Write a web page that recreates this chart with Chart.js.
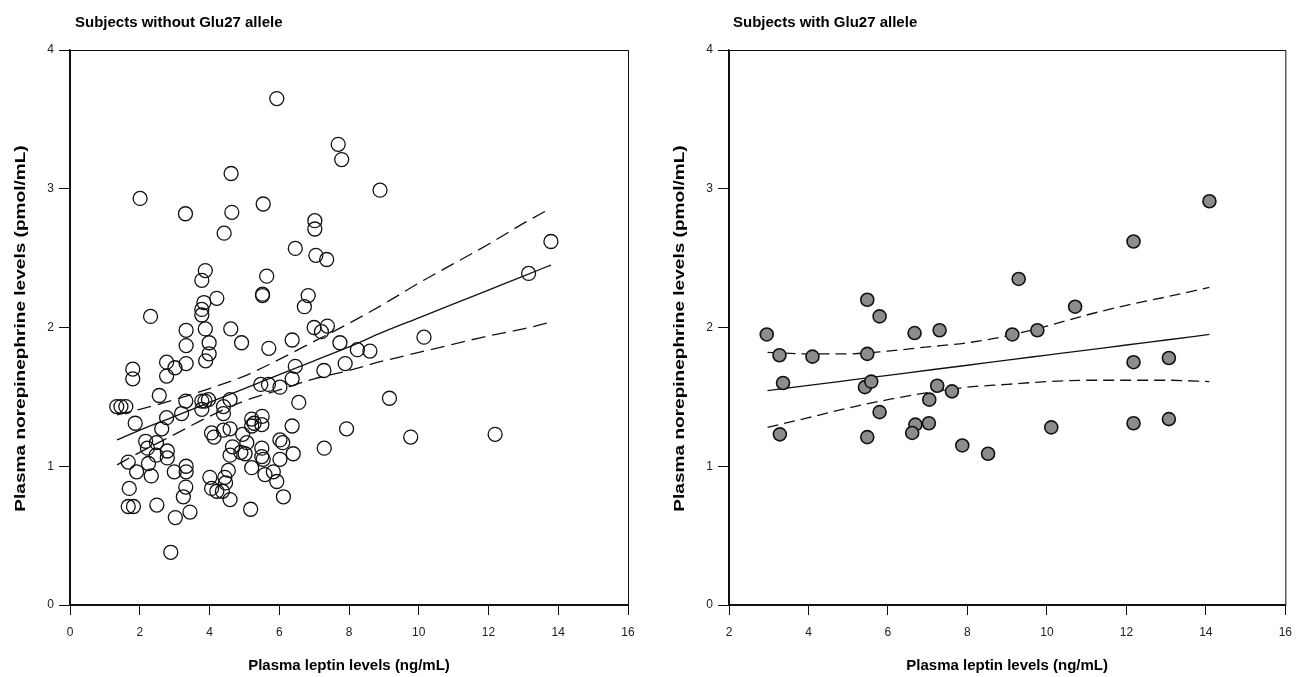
<!DOCTYPE html>
<html>
<head>
<meta charset="utf-8">
<script src="https://cdn.jsdelivr.net/npm/chart.js@4.4.1/dist/chart.umd.min.js"></script>
<style>
  html, body { margin: 0; padding: 0; background: #fff; }
  .panel { position: absolute; top: 0; width: 651px; height: 677px; }
  #left { left: 0; }
  #right { left: 651px; }
</style>
</head>
<body>
<div class="panel" id="left"><canvas id="chartLeft" width="651" height="677"></canvas></div>
<div class="panel" id="right"><canvas id="chartRight" width="651" height="677"></canvas></div>
<script>
// subjects without Glu27 allele (leptin ng/mL, norepinephrine pmol/mL)
const leftX = [
  5.93, 7.69, 7.79, 4.62, 2.01, 3.31, 4.64, 5.54, 7.02, 7.02, 4.42, 8.89, 13.79,
  6.46, 7.05, 7.36, 3.88, 3.78, 5.64, 5.52, 5.52, 4.21, 6.83, 6.72, 3.84, 3.78, 3.78,
  2.31, 3.33, 3.88, 4.61, 7.00, 7.38, 7.21, 3.33, 3.99, 4.92, 6.37, 7.74, 5.70, 3.99,
  3.89, 3.33, 2.77, 3.01, 2.77, 1.80, 1.80, 6.46, 7.89, 7.28, 6.37, 5.47, 5.69, 6.02,
  6.56, 2.56, 3.32, 3.78, 3.87, 3.97, 3.78, 4.59, 4.40, 4.40, 1.34, 1.46, 1.60, 3.20,
  2.77, 1.87, 5.21, 5.51, 6.37, 7.93, 13.15, 10.15, 9.16, 8.24, 8.60,
  2.63, 2.17, 2.48, 2.22, 2.47, 2.79, 2.79, 1.67, 2.25, 1.91, 2.33, 1.70, 1.67, 1.82,
  2.49, 3.02, 3.44, 2.89, 2.99, 3.33, 3.33, 3.32, 3.25, 4.06, 4.13, 4.01, 4.06, 4.21,
  4.37, 4.59, 4.40, 4.59, 4.66, 4.59, 4.90, 4.54, 4.44, 4.46, 4.95, 5.07, 5.02, 5.21,
  5.28, 5.50, 5.21, 5.18, 5.50, 5.50, 5.54, 5.59, 5.83, 5.93, 6.02, 6.10, 6.40, 6.02,
  6.12, 7.29, 9.77, 12.19
];
const leftY = [
  3.65, 3.32, 3.21, 3.11, 2.93, 2.82, 2.83, 2.89, 2.77, 2.71, 2.68, 2.99, 2.62,
  2.57, 2.52, 2.49, 2.41, 2.34, 2.37, 2.24, 2.23, 2.21, 2.23, 2.15, 2.18, 2.13, 2.09,
  2.08, 1.98, 1.99, 1.99, 2.00, 2.01, 1.97, 1.87, 1.89, 1.89, 1.91, 1.89, 1.85, 1.81,
  1.76, 1.74, 1.75, 1.71, 1.65, 1.70, 1.63, 1.72, 1.74, 1.69, 1.63, 1.59, 1.59, 1.57,
  1.46, 1.51, 1.47, 1.47, 1.47, 1.48, 1.41, 1.48, 1.43, 1.38, 1.43, 1.43, 1.43, 1.38,
  1.35, 1.31, 1.34, 1.36, 1.29, 1.27, 2.39, 1.93, 1.49, 1.84, 1.83,
  1.27, 1.18, 1.17, 1.13, 1.08, 1.11, 1.06, 1.03, 1.02, 0.96, 0.93, 0.84, 0.71, 0.71,
  0.72, 0.63, 0.67, 0.38, 0.96, 1.00, 0.96, 0.85, 0.78, 1.24, 1.21, 0.92, 0.84, 0.82,
  0.82, 0.76, 1.26, 1.27, 1.14, 1.08, 1.10, 0.97, 0.92, 0.88, 1.23, 1.17, 1.09, 1.29,
  1.31, 1.30, 0.99, 0.69, 1.13, 1.07, 1.05, 0.94, 0.96, 0.89, 1.19, 1.17, 1.09, 1.05,
  0.78, 1.13, 1.21, 1.23
];

// regression line and 95% band
const leftLineX = [1.35, 2, 3, 4, 5, 6, 7, 8, 9, 10, 11, 12, 13, 13.79];
const leftFit   = [1.19, 1.26, 1.36, 1.46, 1.56, 1.66, 1.76, 1.86, 1.97, 2.07, 2.17, 2.27, 2.37, 2.45];
const leftUpper = [1.37, 1.41, 1.48, 1.56, 1.65, 1.77, 1.90, 2.03, 2.17, 2.32, 2.46, 2.60, 2.75, 2.86];
const leftLower = [1.01, 1.10, 1.23, 1.36, 1.47, 1.55, 1.63, 1.69, 1.76, 1.82, 1.88, 1.94, 1.99, 2.04];

// subjects with Glu27 allele
const rightX = [
  2.95, 3.27, 4.10, 3.36, 3.28, 5.48, 5.79, 5.48, 5.42, 5.58, 5.79, 5.48, 6.67, 7.30,
  7.24, 7.61, 7.04, 7.03, 6.69, 6.61, 7.87, 8.52, 14.09, 12.18, 9.29, 10.71, 9.13,
  9.76, 12.18, 13.07, 12.18, 13.07, 10.11
];
const rightY = [
  1.95, 1.80, 1.79, 1.60, 1.23, 2.20, 2.08, 1.81, 1.57, 1.61, 1.39, 1.21, 1.96, 1.98,
  1.58, 1.54, 1.48, 1.31, 1.30, 1.24, 1.15, 1.09, 2.91, 2.62, 2.35, 2.15, 1.95,
  1.98, 1.75, 1.78, 1.31, 1.34, 1.28
];

const rightLineX = [2.97, 4, 5, 6, 7, 8, 9, 10, 11, 12, 13, 14.09];
const rightFit   = [1.545, 1.583, 1.619, 1.655, 1.692, 1.728, 1.765, 1.801, 1.837, 1.874, 1.910, 1.95];
const rightUpper = [1.82, 1.81, 1.81, 1.83, 1.86, 1.89, 1.94, 2.01, 2.09, 2.16, 2.22, 2.29];
const rightLower = [1.28, 1.35, 1.42, 1.48, 1.53, 1.57, 1.59, 1.61, 1.62, 1.62, 1.62, 1.61];

const yTicks = [0, 1, 2, 3, 4];

const FONT = "'Liberation Sans', Arial, sans-serif";
const INK = "#111";
const Y_TITLE = "Plasma norepinephrine levels (pmol/mL)";

function pts(xs, ys) {
  return xs.map((x, i) => ({ x: x, y: ys[i] }));
}

// box round the plot, panel title, and the (stretched) y axis title
const framePlugin = {
  id: "frame",
  afterDraw(chart, args, opts) {
    const { ctx, chartArea } = chart;
    ctx.save();
    ctx.strokeStyle = INK;
    ctx.lineWidth = 1;
    ctx.strokeRect(chartArea.left + 0.5, chartArea.top + 0.5,
      chartArea.right - chartArea.left, chartArea.bottom - chartArea.top);
    ctx.fillStyle = "#000";
    ctx.font = "bold 15px " + FONT;
    ctx.textAlign = "left";
    ctx.textBaseline = "middle";
    ctx.fillText(opts.text, chartArea.left + opts.dx, 23);

    ctx.translate(opts.yTitleX, (chartArea.top + chartArea.bottom) / 2 + 1);
    ctx.rotate(-Math.PI / 2);
    ctx.scale(1.27, 1);
    ctx.textAlign = "center";
    ctx.fillText(Y_TITLE, 0, 0);
    ctx.restore();
  },
};

function lineSet(xs, ys, dash) {
  return {
    type: "scatter",
    data: pts(xs, ys),
    showLine: true,
    pointRadius: 0,
    borderColor: INK,
    borderWidth: 1.3,
    borderDash: dash,
    fill: false,
    cubicInterpolationMode: "monotone",
  };
}

function makeChart(id, cfg) {
  new Chart(document.getElementById(id), {
    type: "scatter",
    data: {
      datasets: [
        {
          data: pts(cfg.px, cfg.py),
          pointRadius: cfg.radius,
          pointBackgroundColor: cfg.fill,
          pointBorderColor: INK,
          pointBorderWidth: cfg.border,
        },
        lineSet(cfg.lx, cfg.fit, []),
        lineSet(cfg.lx, cfg.upper, cfg.dash),
        lineSet(cfg.lx, cfg.lower, cfg.dash),
      ],
    },
    options: {
      responsive: false,
      animation: false,
      events: [],
      layout: { padding: { top: 50, right: cfg.padRight, left: 0, bottom: 0 } },
      plugins: {
        legend: { display: false },
        tooltip: { enabled: false },
        frame: { text: cfg.title, dx: cfg.titleDx, yTitleX: cfg.yTitleX },
      },
      scales: {
        x: {
          type: "linear",
          min: cfg.xMin,
          max: 16,
          afterFit: (s) => { s.height = 72; },
          ticks: { stepSize: 2, color: "#222", padding: 10, font: { family: FONT, size: 12 } },
          grid: { drawOnChartArea: false, tickLength: 10, color: INK, tickWidth: 1 },
          border: { color: INK, width: 1.2 },
          title: {
            display: true,
            text: "Plasma leptin levels (ng/mL)",
            color: "#000",
            padding: { top: 0, bottom: 2 },
            font: { family: FONT, size: 15, weight: "bold" },
          },
        },
        y: {
          type: "linear",
          min: 0,
          max: 4,
          afterFit: (s) => { s.width = cfg.yWidth; },
          afterBuildTicks: (s) => { s.ticks = yTicks.map((v) => ({ value: v })); },
          ticks: { color: "#222", padding: 5, font: { family: FONT, size: 12 } },
          grid: { drawOnChartArea: false, tickLength: 11, color: INK, tickWidth: 1 },
          border: { color: INK, width: 1.2 },
          title: { display: false },
        },
      },
    },
    plugins: [framePlugin],
  });
}

makeChart("chartLeft", {
  px: leftX, py: leftY, radius: 7, fill: "rgba(255,255,255,0)", border: 1.3,
  lx: leftLineX, fit: leftFit, upper: leftUpper, lower: leftLower, dash: [14, 7],
  title: "Subjects without Glu27 allele", titleDx: 5,
  xMin: 0, padRight: 23, yWidth: 70, yTitleX: 21,
});

makeChart("chartRight", {
  px: rightX, py: rightY, radius: 6.5, fill: "#8c8c8c", border: 1.6,
  lx: rightLineX, fit: rightFit, upper: rightUpper, lower: rightLower, dash: [11, 6],
  title: "Subjects with Glu27 allele", titleDx: 4,
  xMin: 2, padRight: 15, yWidth: 78, yTitleX: 29,
});
</script>
</body>
</html>
